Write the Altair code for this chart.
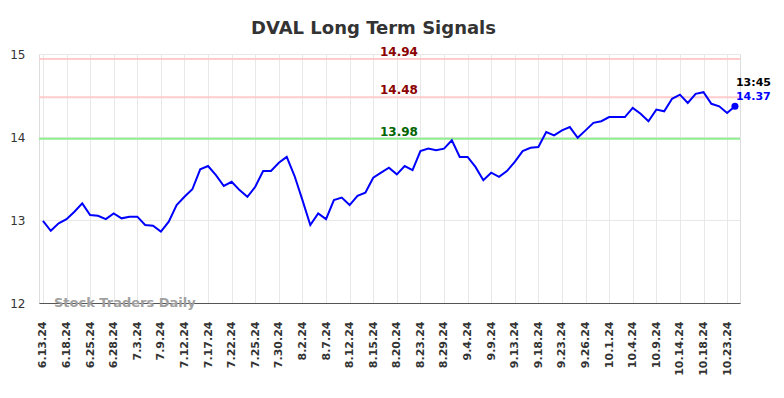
import altair as alt
import pandas as pd

# ---- data ----
prices = [12.99, 12.87, 12.96, 13.01, 13.10, 13.20, 13.06, 13.05, 13.01, 13.08,
          13.02, 13.04, 13.04, 12.94, 12.93, 12.86, 12.98, 13.18, 13.28, 13.37,
          13.61, 13.65, 13.54, 13.41, 13.46, 13.36, 13.28, 13.40, 13.59, 13.59,
          13.69, 13.76, 13.53, 13.24, 12.94, 13.08, 13.01, 13.24, 13.27, 13.18,
          13.29, 13.33, 13.51, 13.57, 13.63, 13.55, 13.65, 13.60, 13.83, 13.86,
          13.84, 13.86, 13.96, 13.76, 13.76, 13.64, 13.48, 13.57, 13.52, 13.59,
          13.70, 13.83, 13.87, 13.88, 14.06, 14.02, 14.08, 14.12, 13.99, 14.08,
          14.17, 14.19, 14.24, 14.24, 14.24, 14.35, 14.28, 14.19, 14.33, 14.31,
          14.46, 14.51, 14.41, 14.52, 14.54, 14.40, 14.37, 14.29, 14.37]

tick_labels = ["6.13.24", "6.18.24", "6.25.24", "6.28.24", "7.3.24", "7.9.24",
               "7.12.24", "7.17.24", "7.22.24", "7.25.24", "7.30.24", "8.2.24",
               "8.7.24", "8.12.24", "8.15.24", "8.20.24", "8.23.24", "8.29.24",
               "9.4.24", "9.9.24", "9.13.24", "9.18.24", "9.23.24", "9.26.24",
               "10.1.24", "10.4.24", "10.9.24", "10.14.24", "10.18.24", "10.23.24"]
tick_step = 3

levels = [14.94, 14.48, 13.98]
level_line_colors = ["#ffcccc", "#ffcccc", "#90ee90"]
level_text_colors = ["#8b0000", "#8b0000", "#006400"]

last_time = "13:45"
watermark = "Stock Traders Daily"
title = "DVAL Long Term Signals"

FONT = "DejaVu Sans"

# ---- tables ----
df = pd.DataFrame({"i": list(range(len(prices))), "price": prices})
lv = pd.DataFrame({"level": levels, "lc": level_line_colors, "tc": level_text_colors,
                   "label": [f"{v:.2f}" for v in levels]})
last = df.tail(1).assign(t=last_time, p=lambda d: d["price"].map(lambda v: f"{v:.2f}"))
wm = pd.DataFrame({"i": [1.4], "price": [12.0], "t": [watermark]})

n = len(prices)
x_scale = alt.Scale(domain=[-0.5, n - 1 + 0.64], nice=False, zero=False)
y_scale = alt.Scale(domain=[12, 15], nice=False, zero=False)

label_array = "[" + ",".join(f"'{s}'" for s in tick_labels) + "]"
x_axis = alt.Axis(
    values=list(range(0, n, tick_step)),
    labelExpr=f"{label_array}[round(datum.value/{tick_step})]",
    labelAngle=270, labelAlign="right", labelBaseline="middle",
    labelFontSize=11, labelFontWeight="bold", labelColor="#333333",
    labelPadding=18, ticks=False, grid=True, gridColor="#e8e8e8",
    domain=True, domainColor="#555555", domainWidth=1, title=None,
    labelOverlap=False, labelFlush=False, labelBound=False,
)
y_axis = alt.Axis(
    values=[12, 13, 14, 15], labelFontSize=12, labelColor="#333333",
    labelPadding=14, ticks=False, domain=False, grid=True, gridColor="#e8e8e8",
    title=None, format="d",
)

base_x = alt.X("i:Q", scale=x_scale, axis=x_axis)
base_y = alt.Y("price:Q", scale=y_scale, axis=y_axis)

grid_layer = alt.Chart(df).mark_line(opacity=0).encode(x=base_x, y=base_y)

watermark_layer = alt.Chart(wm).mark_text(
    align="left", baseline="middle", fontSize=13, fontWeight="bold", color="#a0a0a0"
).encode(x=alt.X("i:Q", scale=x_scale, axis=x_axis), y=alt.Y("price:Q", scale=y_scale, axis=y_axis), text="t:N")

rules = alt.Chart(lv).mark_rule(strokeWidth=2).encode(
    y=alt.Y("level:Q", scale=y_scale, axis=y_axis),
    color=alt.Color("lc:N", scale=None),
)
rule_text = alt.Chart(lv).mark_text(
    baseline="bottom", dy=0, fontSize=12, fontWeight="bold", align="center"
).encode(
    x=alt.value(360), y=alt.Y("level:Q", scale=y_scale, axis=y_axis),
    text="label:N", color=alt.Color("tc:N", scale=None),
)

line = alt.Chart(df).mark_line(color="#0000ff", strokeWidth=2).encode(
    x=alt.X("i:Q", scale=x_scale, axis=x_axis), y=alt.Y("price:Q", scale=y_scale, axis=y_axis)
)
dot = alt.Chart(last).mark_circle(color="#0000ff", size=50, opacity=1).encode(
    x=alt.X("i:Q", scale=x_scale, axis=x_axis), y=alt.Y("price:Q", scale=y_scale, axis=y_axis)
)
t_time = alt.Chart(last).mark_text(
    align="left", baseline="middle", dx=1, dy=-23, fontSize=11, fontWeight="bold", color="#000000"
).encode(x=alt.X("i:Q", scale=x_scale, axis=x_axis), y=alt.Y("price:Q", scale=y_scale, axis=y_axis), text="t:N")
t_price = alt.Chart(last).mark_text(
    align="left", baseline="middle", dx=1, dy=-9, fontSize=11, fontWeight="bold", color="#0000ff"
).encode(x=alt.X("i:Q", scale=x_scale, axis=x_axis), y=alt.Y("price:Q", scale=y_scale, axis=y_axis), text="p:N")

chart = alt.layer(
    grid_layer, watermark_layer, rules, rule_text, line, dot, t_time, t_price
).properties(
    width=701, height=249,
    title=alt.TitleParams(title, fontSize=18, fontWeight="bold", color="#333333",
                          anchor="middle", dx=-16, offset=8, font=FONT),
    autosize=alt.AutoSizeParams(type="none"),
    padding={"left": 31, "top": 46, "right": 36, "bottom": 87},
).configure_view(stroke=None).configure(
    background="white", font=FONT
).configure_axis(labelFont=FONT).configure_text(font=FONT).configure_axisX(labelOverlap=False)

chart.save("out.html", embed_options={"renderer": "svg", "actions": False})
